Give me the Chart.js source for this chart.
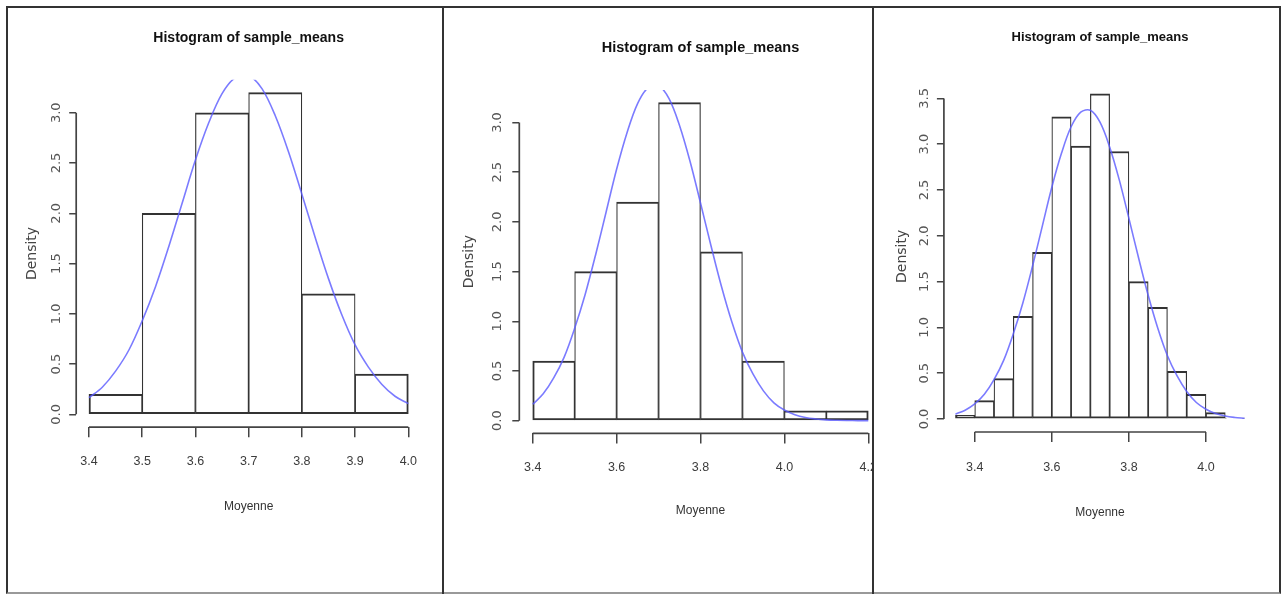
<!DOCTYPE html>
<html>
<head>
<meta charset="utf-8">
<script src="https://cdn.jsdelivr.net/npm/chart.js@4.4.1/dist/chart.umd.min.js"></script>
<style>
  body { margin: 0; background: #fff; }
  #frame { position: absolute; left: 6px; top: 6px; width: 1271px; height: 584px; border: 2px solid #333; border-bottom-color: #999; }
  .divider { position: absolute; top: 6px; width: 2px; height: 588px; background: #333; }
  .panel { position: absolute; top: 8px; height: 584px; overflow: hidden; }
  canvas { display: block; }
</style>
</head>
<body>
<div id="frame"></div>
<div class="divider" style="left:442px"></div>
<div class="divider" style="left:872px"></div>
<div class="panel" style="left:8px;width:434px"><canvas id="hist1" width="434" height="584"></canvas></div>
<div class="panel" style="left:444px;width:428px"><canvas id="hist2" width="460" height="584"></canvas></div>
<div class="panel" style="left:874px;width:405px"><canvas id="hist3" width="405" height="584"></canvas></div>

<script>
const titleText = 'Histogram of sample_means';
const xLabel = 'Moyenne';
const yLabel = 'Density';

// panel 1 : bins of 0.1
const breaks1 = [3.4, 3.5, 3.6, 3.7, 3.8, 3.9, 4.0];
const density1 = [0.2, 2.0, 3.0, 3.2, 1.2, 0.4];
const xTicks1 = [3.4, 3.5, 3.6, 3.7, 3.8, 3.9, 4.0];
const yTicks1 = [0, 0.5, 1.0, 1.5, 2.0, 2.5, 3.0];

// panel 2 : bins of 0.1
const breaks2 = [3.4, 3.5, 3.6, 3.7, 3.8, 3.9, 4.0, 4.1, 4.2];
const density2 = [0.6, 1.5, 2.2, 3.2, 1.7, 0.6, 0.1, 0.1];
const xTicks2 = [3.4, 3.6, 3.8, 4.0, 4.2];
const yTicks2 = [0, 0.5, 1.0, 1.5, 2.0, 2.5, 3.0];

// panel 3 : bins of 0.05
const breaks3 = [3.35, 3.4, 3.45, 3.5, 3.55, 3.6, 3.65, 3.7, 3.75, 3.8, 3.85, 3.9, 3.95, 4.0, 4.05, 4.1];
const density3 = [0.04, 0.2, 0.44, 1.12, 1.82, 3.30, 2.98, 3.55, 2.92, 1.50, 1.22, 0.52, 0.27, 0.07, 0.01];
const xTicks3 = [3.4, 3.6, 3.8, 4.0];
const yTicks3 = [0, 0.5, 1.0, 1.5, 2.0, 2.5, 3.0, 3.5];

// blue density curve (same curve in each panel)
const curveX = [3.35, 3.375, 3.4, 3.425, 3.45, 3.475, 3.5, 3.525, 3.55, 3.575, 3.6, 3.625,
  3.65, 3.675, 3.7, 3.725, 3.75, 3.775, 3.8, 3.825, 3.85, 3.875, 3.9, 3.925, 3.95, 3.975,
  4.0, 4.025, 4.05, 4.075, 4.1, 4.125, 4.15, 4.175, 4.2];
const curveY = [0.053, 0.096, 0.165, 0.27, 0.43, 0.64, 0.93, 1.27, 1.67, 2.10, 2.53, 2.90,
  3.19, 3.35, 3.37, 3.24, 2.97, 2.61, 2.19, 1.76, 1.35, 0.99, 0.69, 0.47, 0.30, 0.18,
  0.107, 0.060, 0.032, 0.017, 0.008, 0.004, 0.002, 0.001, 0.0003];

const sans = '"Liberation Sans", Arial, sans-serif';
const wide = '"DejaVu Sans", Verdana, sans-serif';

// R style axes: line only from first to last tick, y labels turned
const rAxes = {
  id: 'rAxes',
  afterDraw(chart, args, opts) {
    const { ctx, chartArea, scales: { x, y } } = chart;
    const xt = x.ticks, yt = y.ticks;
    ctx.save();
    ctx.strokeStyle = '#444';
    ctx.lineWidth = 1.7;
    ctx.beginPath();
    ctx.moveTo(x.getPixelForValue(xt[0].value), chartArea.bottom);
    ctx.lineTo(x.getPixelForValue(xt[xt.length - 1].value), chartArea.bottom);
    ctx.moveTo(chartArea.left, y.getPixelForValue(yt[0].value));
    ctx.lineTo(chartArea.left, y.getPixelForValue(yt[yt.length - 1].value));
    ctx.stroke();
    ctx.fillStyle = '#555';
    ctx.font = '13px ' + wide;
    ctx.textAlign = 'center';
    ctx.textBaseline = 'middle';
    yt.forEach(t => {
      ctx.save();
      ctx.translate(chartArea.left - opts.gap, y.getPixelForValue(t.value));
      ctx.rotate(-Math.PI / 2);
      ctx.fillText(t.value.toFixed(1), 0, 0);
      ctx.restore();
    });
    ctx.restore();
  }
};

function makeHist(id, breaks, density, xTicks, yTicks, lay) {
  const n = density.length;
  const lo = breaks[0], hi = breaks[breaks.length - 1];
  const span = hi - lo;
  const top = Math.max(...density);
  const bars = density.map((d, i) => ({ x: (breaks[i] + breaks[i + 1]) / 2, y: d }));
  const curve = curveX.map((x, i) => ({ x: x, y: curveY[i] }))
    .filter(p => p.x > lo - 1e-6 && p.x < hi + 1e-6);

  new Chart(document.getElementById(id), {
    type: 'bar',
    data: {
      datasets: [
        {
          type: 'line',
          data: curve,
          borderColor: 'rgba(90,90,255,0.8)',
          borderWidth: 1.6,
          pointRadius: 0,
          tension: 0.35,
          fill: false,
          order: 1
        },
        {
          type: 'bar',
          data: bars,
          backgroundColor: '#fff',
          borderColor: '#333',
          borderWidth: c => ({
            top: 2, bottom: 2,
            left: c.dataIndex === 0 ? 2 : 1.2,
            right: c.dataIndex === n - 1 ? 2 : 1.2
          }),
          borderSkipped: false,
          barPercentage: 1,
          categoryPercentage: 1,
          order: 2
        }
      ]
    },
    options: {
      responsive: false,
      animation: false,
      events: [],
      layout: { padding: lay.pad },
      plugins: {
        legend: { display: false },
        tooltip: { enabled: false },
        title: {
          display: true,
          text: titleText,
          fullSize: false,
          color: '#111',
          font: { family: sans, size: lay.titleSize, weight: 'bold', lineHeight: 1.2 },
          padding: { top: 0, bottom: lay.titleGap }
        },
        rAxes: { gap: lay.yLabGap }
      },
      scales: {
        x: {
          type: 'linear',
          offset: false,
          min: lo - span * 0.04,
          max: hi + span * 0.04,
          afterBuildTicks: a => { a.ticks = xTicks.map(v => ({ value: v })); },
          afterFit: a => { a.height = lay.xH; },
          border: { display: false },
          grid: { offset: false, drawOnChartArea: false, drawTicks: true, tickLength: 10, color: '#444', lineWidth: 1.5 },
          ticks: {
            autoSkip: false, maxRotation: 0, padding: lay.xTickPad,
            color: '#3c3c3c', font: { family: sans, size: 12.5 },
            callback: v => Number(v).toFixed(1)
          },
          title: { display: true, text: xLabel, color: '#333', padding: 0, font: { family: sans, size: 12, lineHeight: 1.2 } }
        },
        y: {
          type: 'linear',
          min: -top * 0.04,
          max: top * 1.04,
          afterBuildTicks: a => { a.ticks = yTicks.map(v => ({ value: v })); },
          afterFit: a => { a.width = lay.yW; },
          border: { display: false },
          grid: { drawOnChartArea: false, drawTicks: true, tickLength: 7, color: '#444', lineWidth: 1.5 },
          ticks: { display: false },
          title: { display: true, text: yLabel, color: '#444', padding: 0, font: { family: wide, size: 14, lineHeight: 1.2 } }
        }
      }
    },
    plugins: [rAxes]
  });
}

makeHist('hist1', breaks1, density1, xTicks1, yTicks1, {
  pad: { top: 21.6, left: 15.8, right: 20.9, bottom: 78.2 },
  titleSize: 14, titleGap: 33.4, xH: 86.6, xTickPad: 17.2, yW: 52.4, yLabGap: 20
});
makeHist('hist2', breaks2, density2, xTicks2, yTicks2, {
  pad: { top: 31.1, left: 16.8, right: 22.3, bottom: 74.2 },
  titleSize: 14.5, titleGap: 33.4, xH: 84.4, xTickPad: 17.1, yW: 58.5, yLabGap: 22
});
makeHist('hist3', breaks3, density3, xTicks3, yTicks3, {
  pad: { top: 21.8, left: 19.8, right: 22.9, bottom: 72.5 },
  titleSize: 13, titleGap: 35.4, xH: 87.5, xTickPad: 18.4, yW: 50.1, yLabGap: 19
});
</script>
</body>
</html>
